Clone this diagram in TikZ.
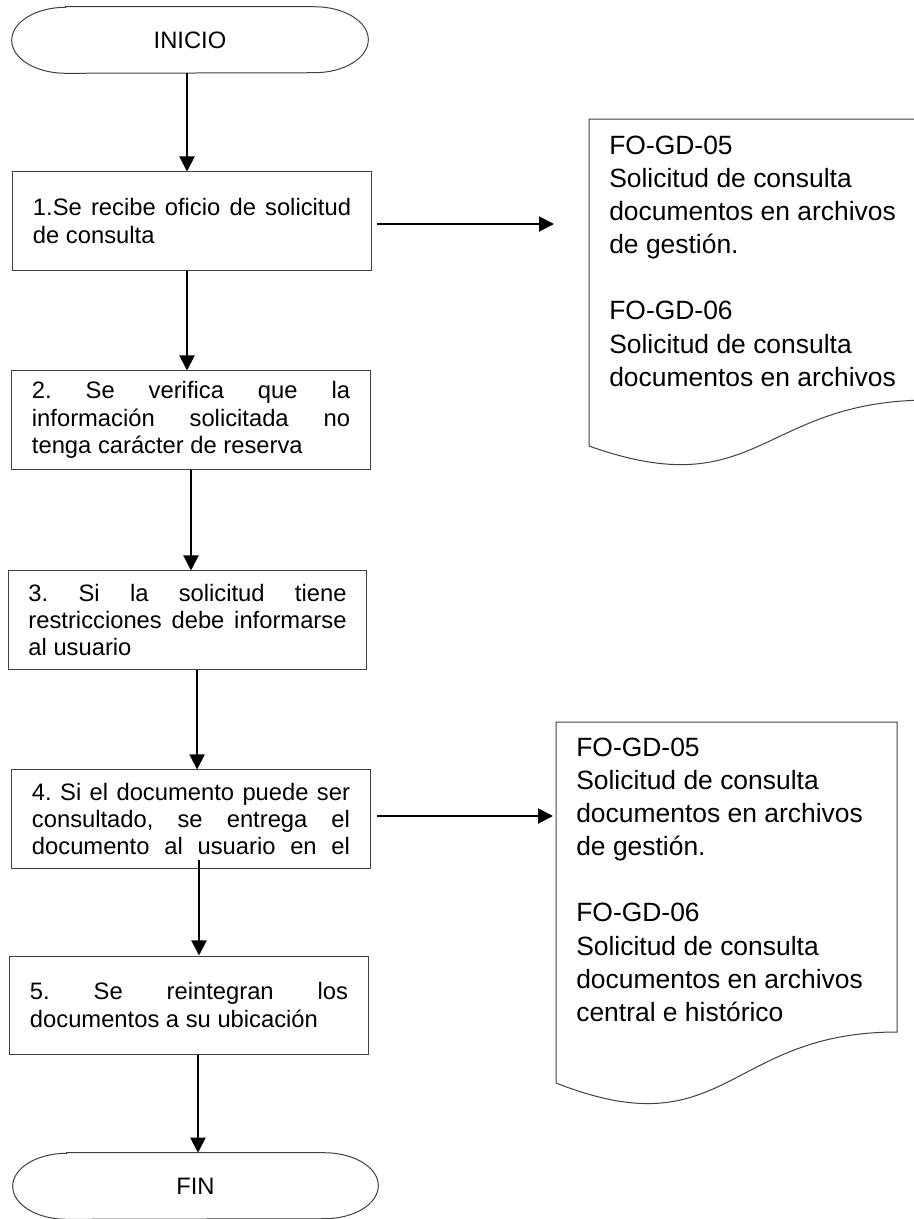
\documentclass[tikz,border=0pt]{standalone}
\usepackage{fontspec}
\setmainfont{Liberation Sans}
\usetikzlibrary{arrows.meta}
\frenchspacing
\def\jline#1{\makebox[\hsize][s]{#1}}
\def\termline(#1){\draw[borde] ([xshift=1.35cm]#1.north west) -- ([xshift=-1.35cm]#1.north east) arc[start angle=90, end angle=-90, x radius=1.35cm, y radius=0.825cm] -- ([xshift=1.35cm]#1.south west) arc[start angle=270, end angle=90, x radius=1.35cm, y radius=0.825cm] -- cycle;}
\tikzset{
	borde/.style={draw=black!75, line width=0.025cm},
	paso/.style={borde, minimum width=8.95cm, minimum height=2.45cm, text width=7.95cm, inner xsep=0.5cm, align=justify, font=\fontsize{16.9}{19.5}\selectfont},
	term/.style={inner sep=0pt, minimum height=1.65cm, font=\fontsize{16.9}{19.5}\selectfont},
	flecha/.style={line width=0.05cm, -{Triangle[length=0.375cm,width=0.375cm]}},
	hojatexto/.style={anchor=north west, inner sep=0pt, align=left, font=\fontsize{18.8}{23.5}\selectfont}
}
\begin{document}
\begin{tikzpicture}[x=0.025cm, y=-0.025cm]
			%%%%% START %%%%%
			\useasboundingbox (0,0) rectangle (914,1219);
			
			\node[term, minimum width=8.9cm] (ini) at (190,40) {INICIO};
			\termline(ini)
			
			\node[paso] (p1) at (192,221) {\jline{1.Se recibe oficio de solicitud}\\de consulta};
			\node[paso] (p2) at (191,420) {\jline{2. Se verifica que la}\\\jline{información solicitada no}\\tenga carácter de reserva};
			\node[paso] (p3) at (187.5,620) {\jline{3. Si la solicitud tiene}\\\jline{restricciones debe informarse}\\al usuario};
			\node[paso] (p4) at (191,819) {\jline{4. Si el documento puede ser}\\\jline{consultado, se entrega el}\\\jline{documento al usuario en el}};
			\node[paso] (p5) at (189,1005) {\jline{5. Se reintegran los}\\documentos a su ubicación};
			
			\node[term, minimum width=9.125cm] (fin) at (195.5,1186) {FIN};
			\termline(fin)
			
			% formatos
			\draw[borde] (589,119) -- (930,119) -- (930,400) .. controls (759.5,400) and (759.5,506.6) .. (589,446) -- cycle;
			\node[hojatexto] (f1) at (609,136) {FO-GD-05\\Solicitud de consulta\\documentos en archivos\\de gestión.\\[\baselineskip]FO-GD-06\\Solicitud de consulta\\documentos en archivos};
			
			\draw[borde] (556,722) -- (897,722) -- (897,1032) .. controls (726.5,1032) and (726.5,1150) .. (556,1083) -- cycle;
			\node[hojatexto] (f2) at (576,738) {FO-GD-05\\Solicitud de consulta\\documentos en archivos\\de gestión.\\[\baselineskip]FO-GD-06\\Solicitud de consulta\\documentos en archivos\\central e histórico};
			
			\coordinate (f1in) at (554,224);
			\coordinate (f2in) at (553,816);
			
			% flechas
			\draw[flecha] ([xshift=-0.075cm]ini.south) -- ([xshift=-0.075cm]ini.south |- p1.north);
			\draw[flecha] ([xshift=-0.125cm]p1.south) -- ([xshift=-0.125cm]p1.south |- p2.north);
			\draw[flecha] (p2.south) -- (p2.south |- p3.north);
			\draw[flecha] ([xshift=0.24cm]p3.south) -- ([xshift=0.24cm]p3.south |- p4.north);
			\draw[flecha] ([xshift=0.2cm,yshift=0.225cm]p4.south) -- ([xshift=0.2cm]p4.south |- p5.north);
			\draw[flecha] ([xshift=0.225cm]p5.south) -- ([xshift=0.225cm]p5.south |- fin.north);
			
			\draw[flecha, shorten <=0.125cm] (p1.east |- f1in) -- (f1in);
			\draw[flecha, shorten <=0.15cm] (p4.east |- f2in) -- (f2in);
			
			%%%%% END %%%%%
\end{tikzpicture}
\end{document}
